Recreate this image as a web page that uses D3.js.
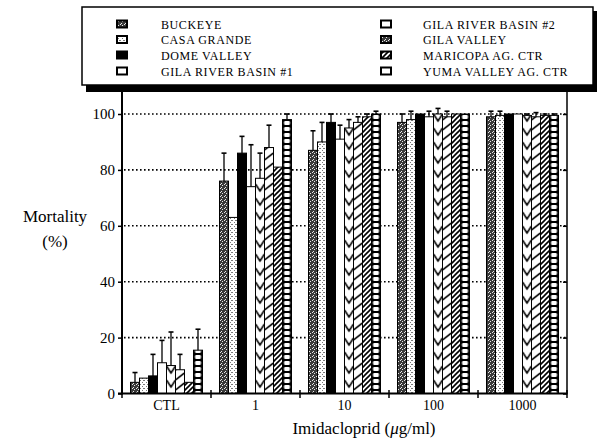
<!DOCTYPE html>
<html><head><meta charset="utf-8">
<script src="https://cdn.jsdelivr.net/npm/d3@7"></script>
<style>
html,body{margin:0;padding:0;background:#fff;}
svg{display:block;}
svg text{font-family:"Liberation Serif","DejaVu Serif",serif !important;fill:#000;}
</style></head>
<body>
<svg id="chart" width="604" height="444"></svg>
<script>
// ---------- data ----------
const categories = ["CTL", "1", "10", "100", "1000"];
const series = ["BUCKEYE", "CASA GRANDE", "DOME VALLEY", "GILA RIVER BASIN #1",
                "GILA RIVER BASIN #2", "GILA VALLEY", "MARICOPA AG. CTR", "YUMA VALLEY AG. CTR"];
// mean mortality (%) per series, across categories
const buckeye     = [4,   76, 87, 97,  99];
const casaGrande  = [5.5, 63, 90, 98,  99.5];
const domeValley  = [6.3, 86, 97, 100, 100];
const gilaRB1     = [11,  74, 91, 99,  100];
const gilaRB2     = [10,  77, 95, 100, 99.5];
const gilaValley  = [8.5, 88, 97, 99,  99];
const maricopa    = [4,   81, 99, 100, 99.5];
const yuma        = [15.5,98, 100,100, 99.5];
// upper end of the error bar
const buckeyeErr    = [7.5, 86, 94, 100, 101];
const casaGrandeErr = [null, null, 97, 101, 101];
const domeValleyErr = [14, 92, 100, 100, 100];
const gilaRB1Err    = [19, 89, 96, 101, 100];
const gilaRB2Err    = [22, 86, 98, 102, 100];
const gilaValleyErr = [14, 96, 99, 101, 100.5];
const maricopaErr   = [null, null, 100, 100, 100];
const yumaErr       = [23, 100, 101, 100, 100];
const yTicks = [0, 20, 40, 60, 80, 100];

const values = [buckeye, casaGrande, domeValley, gilaRB1, gilaRB2, gilaValley, maricopa, yuma];
const errs = [buckeyeErr, casaGrandeErr, domeValleyErr, gilaRB1Err, gilaRB2Err, gilaValleyErr, maricopaErr, yumaErr];

const SERIF = '"Liberation Serif","DejaVu Serif",serif';

// ---------- setup ----------
const svg = d3.select("#chart");
const defs = svg.append("defs");

const x0 = d3.scaleBand().domain(categories).range([122, 567]).padding(0);
const bw = x0.bandwidth();
const x1 = d3.scaleBand().domain(series).range([8.5, bw - 8.5]).padding(0);
const y = d3.scaleLinear().domain([0, 100]).range([393.5, 114]);

// static patterns
function stipple(id, bg, fg, pts) {
  const p = defs.append("pattern").attr("id", id).attr("patternUnits", "userSpaceOnUse")
    .attr("width", 4).attr("height", 4);
  p.append("rect").attr("width", 4).attr("height", 4).attr("fill", bg);
  pts.forEach(([a, b]) => p.append("rect").attr("x", a).attr("y", b).attr("width", 1).attr("height", 1).attr("fill", fg));
}
stipple("pDark", "#3a3a3a", "#e8e8e8", [[0, 0], [2, 1], [1, 3]]);
stipple("pLight", "#ffffff", "#7a7a7a", [[0, 0], [2, 2], [3, 0]]);
{
  const p = defs.append("pattern").attr("id", "pHatch").attr("patternUnits", "userSpaceOnUse")
    .attr("width", 5).attr("height", 5);
  p.append("rect").attr("width", 5).attr("height", 5).attr("fill", "#fff");
  p.append("path").attr("d", "M-1,6 L6,-1 M-1,1 L1,-1 M4,6 L6,4").attr("stroke", "#000").attr("stroke-width", 1.6);
}

// per-bar aligned patterns
let pid = 0;
function alignedPattern(kind, bx, w) {
  const id = "pa" + (pid++);
  if (kind === "chev") {
    const h = 14;
    const p = defs.append("pattern").attr("id", id).attr("patternUnits", "userSpaceOnUse")
      .attr("x", bx).attr("y", 0).attr("width", w).attr("height", h);
    p.append("rect").attr("width", w).attr("height", h).attr("fill", "#fff");
    p.append("path").attr("d", `M0,2 L${w / 2},${h / 2 + 2} L${w},2`).attr("fill", "none")
      .attr("stroke", "#000").attr("stroke-width", 1.5);
  } else if (kind === "slant") {
    const h = 10;
    const p = defs.append("pattern").attr("id", id).attr("patternUnits", "userSpaceOnUse")
      .attr("x", bx).attr("y", 0).attr("width", w).attr("height", h);
    p.append("rect").attr("width", w).attr("height", h).attr("fill", "#fff");
    p.append("path").attr("d", `M0,${h} L${w},${h - 7} M0,0 L${w},-7`).attr("fill", "none")
      .attr("stroke", "#000").attr("stroke-width", 1.6);
  } else if (kind === "box") {
    const h = 6;
    const p = defs.append("pattern").attr("id", id).attr("patternUnits", "userSpaceOnUse")
      .attr("x", bx).attr("y", 0).attr("width", w).attr("height", h);
    p.append("rect").attr("width", w).attr("height", h).attr("fill", "#000");
    p.append("rect").attr("x", 1.6).attr("y", 1.1).attr("width", w - 3.2).attr("height", h - 2.2)
      .attr("rx", 1.2).attr("fill", "#fff");
  }
  return `url(#${id})`;
}
function fillFor(si, bx, w) {
  switch (si) {
    case 0: return "url(#pDark)";
    case 1: return "url(#pLight)";
    case 2: return "#000";
    case 3: return "#fff";
    case 4: return alignedPattern("chev", bx, w);
    case 5: return alignedPattern("slant", bx, w);
    case 6: return "url(#pHatch)";
    case 7: return alignedPattern("box", bx, w);
  }
}

// ---------- gridlines ----------
svg.append("g").selectAll("line").data(yTicks.filter(d => d > 0)).join("line")
  .attr("x1", 124).attr("x2", 566).attr("y1", d => y(d)).attr("y2", d => y(d))
  .attr("stroke", "#000").attr("stroke-width", 1.6).attr("stroke-dasharray", "1.6,2.4");

// ---------- bars ----------
const gBars = svg.append("g");
categories.forEach((c, ci) => {
  series.forEach((s, si) => {
    const v = values[si][ci];
    const bx = x0(c) + x1(s);
    const w = x1.bandwidth();
    gBars.append("rect").attr("x", bx).attr("y", y(v)).attr("width", w).attr("height", y(0) - y(v))
      .attr("fill", fillFor(si, bx, w)).attr("stroke", "#000").attr("stroke-width", 1);
  });
});
// error bars
const gErr = svg.append("g").attr("stroke", "#000").attr("stroke-width", 1.3);
categories.forEach((c, ci) => {
  series.forEach((s, si) => {
    const e = errs[si][ci];
    const v = values[si][ci];
    if (e == null || e <= v) return;
    const cx = x0(c) + x1(s) + x1.bandwidth() / 2;
    gErr.append("line").attr("x1", cx).attr("x2", cx).attr("y1", y(v)).attr("y2", y(e));
    gErr.append("line").attr("x1", cx - 2.5).attr("x2", cx + 2.5).attr("y1", y(e)).attr("y2", y(e)).attr("stroke-width", 1.6);
  });
});

// ---------- axes ----------
const yAx = svg.append("g").attr("transform", "translate(122,0)")
  .call(d3.axisLeft(y).tickValues(yTicks).tickSize(4).tickPadding(3).tickFormat(d3.format("d")));
yAx.attr("font-family", SERIF);
yAx.select(".domain").remove();
yAx.selectAll("text").attr("font-family", SERIF).style("font-size", "15px");
yAx.selectAll("line").attr("stroke-width", 1.5);
svg.append("line").attr("x1", 122).attr("x2", 122).attr("y1", 92).attr("y2", 394.5).attr("stroke", "#000").attr("stroke-width", 2);
// right axis
const yR = svg.append("g").attr("transform", "translate(567,0)")
  .call(d3.axisLeft(y).tickValues(yTicks).tickSize(4).tickFormat(""));
yR.select(".domain").remove();
yR.selectAll("line").attr("stroke-width", 1.5);
svg.append("line").attr("x1", 567).attr("x2", 567).attr("y1", 92).attr("y2", 394.5).attr("stroke", "#000").attr("stroke-width", 1.5);

// x axis
const xAx = svg.append("g").attr("transform", "translate(0,393.5)")
  .call(d3.axisBottom(x0).tickSize(0).tickPadding(7));
xAx.attr("font-family", SERIF);
xAx.select(".domain").remove();
xAx.selectAll("text").attr("font-family", SERIF).style("font-size", "14px");
svg.append("line").attr("x1", 118).attr("x2", 567).attr("y1", 393.5).attr("y2", 393.5).attr("stroke", "#000").attr("stroke-width", 2);
const bounds = categories.map(c => x0(c)).concat([x0.range()[1]]);
svg.append("g").selectAll("line").data(bounds.slice(1)).join("line")
  .attr("x1", d => d).attr("x2", d => d).attr("y1", 390).attr("y2", 398)
  .attr("stroke", "#000").attr("stroke-width", 1.5);
svg.append("line").attr("x1", 122).attr("x2", 122).attr("y1", 393).attr("y2", 398).attr("stroke", "#000").attr("stroke-width", 1.5);

// axis titles
const xt = svg.append("text").attr("x", 364).attr("y", 434).attr("text-anchor", "middle")
  .attr("font-family", SERIF).style("font-size", "17px");
xt.append("tspan").text("Imidacloprid (");
xt.append("tspan").style("font-style", "italic").text("\u03bc");
xt.append("tspan").text("g/ml)");
svg.append("text").attr("x", 55).attr("y", 222).attr("text-anchor", "middle").attr("font-family", SERIF).style("font-size", "17px").text("Mortality");
svg.append("text").attr("x", 55).attr("y", 247).attr("text-anchor", "middle").attr("font-family", SERIF).style("font-size", "17px").text("(%)");

// ---------- legend ----------
const lg = svg.append("g");
lg.append("rect").attr("x", 86).attr("y", 11).attr("width", 511).attr("height", 81).attr("fill", "#000");
lg.append("rect").attr("x", 82).attr("y", 7).attr("width", 511).attr("height", 78)
  .attr("fill", "#fff").attr("stroke", "#000").attr("stroke-width", 1.5);
const rowY = [24, 39.5, 55, 71];
series.forEach((s, i) => {
  const col = i < 4 ? 0 : 1;
  const row = i % 4;
  const sx = col === 0 ? 122 : 386;
  const tx = col === 0 ? 161 : 423;
  const cy = rowY[row];
  let f;
  if (i === 4 || i === 7 || i === 3) f = "#fff";
  else if (i === 2) f = "#000";
  else if (i === 0) f = "url(#pDark)";
  else if (i === 1) f = "url(#pLight)";
  else if (i === 5) f = "url(#pDark)";
  else f = "url(#pHatch)";
  lg.append("rect").attr("x", sx - 5).attr("y", cy - 3.5).attr("width", 10).attr("height", 7)
    .attr("fill", f).attr("stroke", "#000").attr("stroke-width", 2);
  lg.append("text").attr("x", tx).attr("y", cy + 4.5).attr("font-family", SERIF).style("font-size", "12px")
    .style("letter-spacing", "0.6px").text(s);
});
</script>
</body></html>
